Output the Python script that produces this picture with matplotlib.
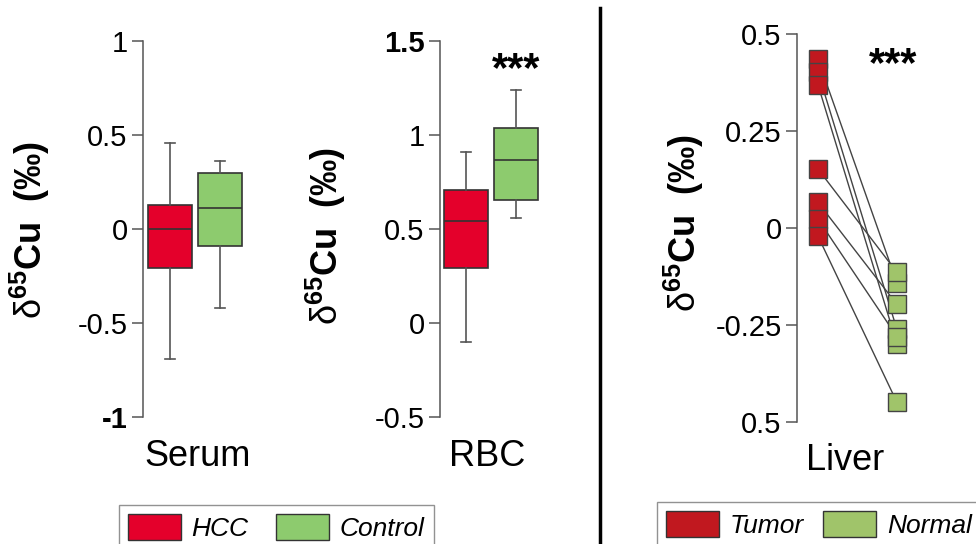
import matplotlib
matplotlib.use('Agg')
import matplotlib.pyplot as plt
from matplotlib.patches import Patch

plt.rcParams['font.family'] = ['Liberation Sans', 'DejaVu Sans']
plt.rcParams['mathtext.fontset'] = 'custom'
plt.rcParams['mathtext.rm'] = 'Liberation Sans'
plt.rcParams['mathtext.bf'] = 'Liberation Sans:bold'
plt.rcParams['mathtext.it'] = 'Liberation Sans:italic'

W, H = 976, 544

# box stats: whisker low, Q1, median, Q3, whisker high
serum_hcc = [-0.69, -0.21, 0.00, 0.13, 0.46]
serum_control = [-0.42, -0.09, 0.11, 0.30, 0.36]
rbc_hcc = [-0.10, 0.29, 0.545, 0.71, 0.91]
rbc_control = [0.56, 0.655, 0.865, 1.035, 1.24]

# paired liver samples (tumor[i] -> normal[i])
liver_tumor = [0.435, 0.402, 0.369, 0.152, 0.066, 0.023, -0.021]
liver_normal = [-0.141, -0.261, -0.298, -0.114, -0.197, -0.280, -0.449]

serum_ticks = [1, 0.5, 0, -0.5, -1]
serum_labels = ['1', '0.5', '0', '-0.5', '-1']
rbc_ticks = [1.5, 1, 0.5, 0, -0.5]
rbc_labels = ['1.5', '1', '0.5', '0', '-0.5']
liver_ticks = [0.5, 0.25, 0, -0.25, -0.5]
liver_labels = ['0.5', '0.25', '0', '-0.25', '0.5']

c_hcc, c_control = '#e4002b', '#8dcb6e'
c_tumor, c_normal = '#c1181f', '#a0c46a'

ylab = r'$\mathrm{δ}^{\mathbf{65}}\mathbf{Cu\ \ (‰)}$'


def px_axes(fig, left, top, right, bottom):
  return fig.add_axes([left / W, 1 - bottom / H, (right - left) / W, (bottom - top) / H])


def style(ax, ticks, labels, ylim):
  for s in ['top', 'right', 'bottom']:
    ax.spines[s].set_visible(False)
  ax.spines['left'].set_color('#555555')
  ax.spines['left'].set_linewidth(1.1)
  ax.set_ylim(*ylim)
  ax.set_yticks(ticks)
  ax.set_yticklabels(labels, fontsize=21)
  ax.tick_params(axis='y', length=8, width=1.1, color='#555555', pad=3)
  ax.set_xticks([])


def boxes(ax, stats, colors):
  bs = []
  for s in stats:
    bs.append(dict(whislo=s[0], q1=s[1], med=s[2], q3=s[3], whishi=s[4], fliers=[]))
  bp = ax.bxp(bs, positions=[1, 2], widths=0.88, patch_artist=True, showfliers=False,
              boxprops=dict(edgecolor='#333333', linewidth=1.2),
              medianprops=dict(color='#333333', linewidth=1.2),
              whiskerprops=dict(color='#555555', linewidth=1.2),
              capprops=dict(color='#555555', linewidth=1.2), capwidths=0.2)
  for patch, c in zip(bp['boxes'], colors):
    patch.set_facecolor(c)


fig = plt.figure(figsize=(W / 100, H / 100), dpi=100)

# Serum
ax1 = px_axes(fig, 143, 41, 262, 417)
boxes(ax1, [serum_hcc, serum_control], [c_hcc, c_control])
style(ax1, serum_ticks, serum_labels, (-1, 1))
ax1.set_xlim(0.46, 2.84)
ax1.get_yticklabels()[-1].set_fontweight('bold')
fig.text(198 / W, 1 - 456 / H, 'Serum', fontsize=26, ha='center', va='center')
fig.text(30 / W, 1 - 230 / H, ylab, fontsize=26, rotation=90, ha='center', va='center')

# RBC
ax2 = px_axes(fig, 440, 41, 560, 417)
boxes(ax2, [rbc_hcc, rbc_control], [c_hcc, c_control])
style(ax2, rbc_ticks, rbc_labels, (-0.5, 1.5))
ax2.set_xlim(0.48, 2.88)
ax2.get_yticklabels()[0].set_fontweight('bold')
ax2.text(2, 1.345, '***', fontsize=30, fontweight='bold', ha='center', va='center')
fig.text(487 / W, 1 - 456 / H, 'RBC', fontsize=26, ha='center', va='center')
fig.text(326 / W, 1 - 236 / H, ylab, fontsize=26, rotation=90, ha='center', va='center')

# divider
fig.add_artist(plt.Line2D([600 / W, 600 / W], [0, 1 - 8 / H], color='black', linewidth=2.5))

# Liver
ax3 = px_axes(fig, 797, 34, 960, 422)
for t, n in zip(liver_tumor, liver_normal):
  ax3.plot([1, 2], [t, n], color='#444444', linewidth=1.0, zorder=1)
ax3.plot([1] * len(liver_tumor), liver_tumor, 's', markersize=12.5, markerfacecolor=c_tumor,
         markeredgecolor='#444444', markeredgewidth=1.0, linestyle='none', zorder=3)
ax3.plot([2] * len(liver_normal), liver_normal, 's', markersize=12.5, markerfacecolor=c_normal,
         markeredgecolor='#444444', markeredgewidth=1.0, linestyle='none', zorder=3)
style(ax3, liver_ticks, liver_labels, (-0.5, 0.5))
ax3.set_xlim(0.734, 2.8)
ax3.text(1.95, 0.42, '***', fontsize=30, fontweight='bold', ha='center', va='center')
fig.text(845 / W, 1 - 460 / H, 'Liver', fontsize=26, ha='center', va='center')
fig.text(684 / W, 1 - 223 / H, ylab, fontsize=26, rotation=90, ha='center', va='center')

# legends
leg_kw = dict(ncol=2, frameon=True, fancybox=False, handlelength=2.0, handleheight=1.15,
              handletextpad=0.4, borderpad=0.35, borderaxespad=0,
              prop=dict(family='Liberation Sans', style='italic', size=19))
h1 = [Patch(facecolor=c_hcc, edgecolor='#333333', label='HCC'),
      Patch(facecolor=c_control, edgecolor='#333333', label='Control')]
l1 = fig.legend(handles=h1, loc='upper left', bbox_to_anchor=(119 / W, 1 - 505 / H),
                columnspacing=1.05, **leg_kw)
l1.get_frame().set_edgecolor('#777777')
l1.get_frame().set_linewidth(1.0)
h2 = [Patch(facecolor=c_tumor, edgecolor='#333333', label='Tumor'),
      Patch(facecolor=c_normal, edgecolor='#333333', label='Normal')]
l2 = fig.legend(handles=h2, loc='upper left', bbox_to_anchor=(657 / W, 1 - 502 / H),
                columnspacing=0.75, **leg_kw)
l2.get_frame().set_edgecolor('#777777')
l2.get_frame().set_linewidth(1.0)

fig.savefig('out.png', dpi=100)
